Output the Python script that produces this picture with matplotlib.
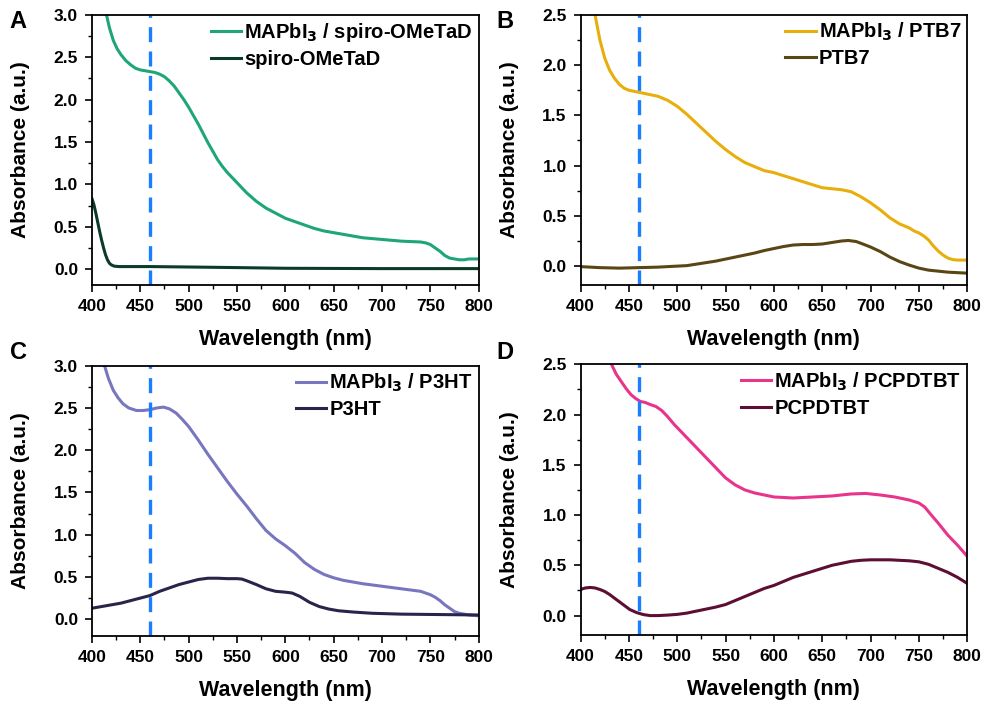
import matplotlib
matplotlib.use("Agg")
import matplotlib.pyplot as plt
from matplotlib.ticker import MultipleLocator

plt.rcParams['font.family'] = ['Liberation Sans', 'DejaVu Sans']
plt.rcParams['font.weight'] = 'bold'
plt.rcParams['mathtext.default'] = 'bf'

# Panel A: MAPbI3 / spiro-OMeTaD and spiro-OMeTaD
wl_a1 = [400, 405, 410, 415, 418, 422, 426, 430, 435, 440, 445, 450, 455, 460, 465, 470, 475, 480, 485, 490,
         495, 500, 505, 510, 515, 520, 525, 530, 535, 540, 545, 550, 555, 560, 565, 570, 575, 580, 590, 600,
         610, 620, 630, 640, 650, 660, 670, 680, 690, 700, 710, 720, 730, 740, 745, 750, 755, 760, 765, 770,
         775, 780, 785, 790, 795, 800]
ab_a1 = [4.6, 4.0, 3.45, 3.0, 2.85, 2.7, 2.6, 2.53, 2.46, 2.41, 2.37, 2.35, 2.34, 2.33, 2.32, 2.30, 2.27, 2.22, 2.16, 2.08,
         2.00, 1.91, 1.81, 1.71, 1.60, 1.49, 1.39, 1.29, 1.21, 1.14, 1.08, 1.02, 0.96, 0.90, 0.85, 0.80, 0.76, 0.72, 0.66, 0.60,
         0.56, 0.52, 0.48, 0.45, 0.43, 0.41, 0.39, 0.37, 0.36, 0.35, 0.34, 0.33, 0.325, 0.32, 0.31, 0.29, 0.25, 0.21, 0.16, 0.13,
         0.12, 0.11, 0.11, 0.12, 0.12, 0.12]
wl_a2 = [400, 402, 404, 406, 408, 410, 412, 414, 416, 418, 420, 423, 428, 440, 460, 500, 550, 600, 650, 700, 750, 800]
ab_a2 = [0.83, 0.76, 0.66, 0.55, 0.44, 0.34, 0.25, 0.17, 0.11, 0.07, 0.05, 0.035, 0.03, 0.03, 0.03, 0.025, 0.018, 0.01,
         0.008, 0.006, 0.006, 0.006]

# Panel B: MAPbI3 / PTB7 and PTB7
wl_b1 = [405, 410, 415, 420, 425, 430, 435, 440, 445, 450, 455, 460, 470, 480, 490, 500, 510, 520, 530, 540,
         550, 560, 570, 580, 590, 600, 610, 620, 630, 640, 650, 660, 670, 675, 680, 690, 700, 710, 720, 730,
         740, 745, 750, 755, 760, 765, 770, 775, 780, 785, 790, 800]
ab_b1 = [3.3, 2.9, 2.5, 2.25, 2.07, 1.95, 1.87, 1.81, 1.77, 1.75, 1.74, 1.73, 1.71, 1.69, 1.65, 1.59, 1.51, 1.42, 1.33, 1.24,
         1.16, 1.09, 1.03, 0.99, 0.95, 0.93, 0.90, 0.87, 0.84, 0.81, 0.78, 0.77, 0.76, 0.75, 0.74, 0.69, 0.63, 0.56, 0.48, 0.42,
         0.38, 0.35, 0.33, 0.30, 0.26, 0.20, 0.15, 0.11, 0.08, 0.065, 0.06, 0.06]
wl_b2 = [400, 420, 440, 460, 480, 500, 510, 520, 530, 540, 550, 560, 570, 580, 590, 600, 610, 620, 630, 640,
         650, 660, 670, 677, 685, 692, 700, 710, 720, 730, 740, 750, 760, 770, 780, 790, 800]
ab_b2 = [-0.005, -0.015, -0.02, -0.015, -0.01, 0.0, 0.005, 0.02, 0.035, 0.05, 0.07, 0.09, 0.11, 0.13, 0.155, 0.175, 0.195,
         0.21, 0.215, 0.215, 0.22, 0.235, 0.25, 0.255, 0.245, 0.22, 0.19, 0.145, 0.09, 0.045, 0.01, -0.02, -0.04, -0.05,
         -0.06, -0.065, -0.07]

# Panel C: MAPbI3 / P3HT and P3HT
wl_c1 = [400, 405, 410, 413, 417, 422, 427, 432, 438, 446, 453, 460, 467, 474, 480, 487, 493, 500, 510, 520,
         530, 540, 550, 560, 570, 580, 590, 600, 610, 620, 630, 640, 650, 660, 680, 700, 720, 740, 750, 755,
         760, 765, 770, 775, 780, 790, 800]
ab_c1 = [4.3, 3.7, 3.2, 3.0, 2.85, 2.71, 2.62, 2.55, 2.50, 2.47, 2.47, 2.48, 2.50, 2.51, 2.49, 2.44, 2.37, 2.28, 2.12, 1.95,
         1.79, 1.63, 1.48, 1.34, 1.19, 1.05, 0.95, 0.87, 0.78, 0.67, 0.59, 0.53, 0.49, 0.46, 0.42, 0.39, 0.36, 0.33, 0.29, 0.26,
         0.22, 0.17, 0.13, 0.09, 0.07, 0.05, 0.04]
wl_c2 = [400, 410, 420, 430, 440, 450, 460, 470, 480, 490, 500, 510, 520, 530, 540, 550, 555, 560, 570, 580,
         590, 600, 607, 615, 625, 635, 645, 655, 670, 690, 720, 760, 800]
ab_c2 = [0.13, 0.15, 0.17, 0.19, 0.22, 0.25, 0.28, 0.33, 0.37, 0.41, 0.44, 0.47, 0.485, 0.485, 0.48, 0.48, 0.475, 0.455,
         0.41, 0.36, 0.33, 0.32, 0.31, 0.27, 0.20, 0.15, 0.12, 0.10, 0.085, 0.07, 0.06, 0.055, 0.05]

# Panel D: MAPbI3 / PCPDTBT and PCPDTBT
wl_d1 = [420, 426, 432, 437, 442, 447, 452, 457, 462, 467, 472, 478, 484, 490, 497, 505, 515, 525, 535, 545,
         550, 560, 570, 580, 590, 600, 620, 640, 660, 680, 695, 710, 725, 740, 750, 756, 762, 770, 780, 790, 800]
ab_d1 = [3.0, 2.75, 2.5, 2.4, 2.33, 2.26, 2.2, 2.16, 2.13, 2.12, 2.1, 2.08, 2.04, 1.98, 1.9, 1.82, 1.72, 1.62, 1.52, 1.42,
         1.37, 1.30, 1.25, 1.22, 1.20, 1.18, 1.17, 1.18, 1.19, 1.21, 1.215, 1.2, 1.18, 1.15, 1.12, 1.08, 1.01, 0.92, 0.8,
         0.7, 0.59]
wl_d2 = [400, 405, 410, 415, 420, 425, 430, 437, 444, 451, 458, 465, 472, 480, 490, 500, 510, 520, 530, 540,
         550, 560, 570, 580, 590, 600, 610, 620, 630, 640, 650, 660, 670, 680, 690, 700, 720, 740, 750, 760,
         770, 780, 790, 800]
ab_d2 = [0.26, 0.275, 0.28, 0.275, 0.26, 0.24, 0.21, 0.16, 0.11, 0.06, 0.03, 0.01, 0.0, 0.0, 0.005, 0.012, 0.025, 0.045,
         0.065, 0.085, 0.11, 0.15, 0.19, 0.23, 0.27, 0.30, 0.34, 0.38, 0.41, 0.44, 0.47, 0.50, 0.52, 0.54, 0.55, 0.555,
         0.555, 0.545, 0.535, 0.51, 0.47, 0.43, 0.38, 0.32]

panels = [
    ('A', [0.093, 0.596], (0.010, 0.969), wl_a1, ab_a1, wl_a2, ab_a2, '#1fa57a', '#0b3b27',
     r'MAPbI$_3$ / spiro-OMeTaD', 'spiro-OMeTaD', (-0.19, 3.0)),
    ('B', [0.587, 0.596], (0.502, 0.969), wl_b1, ab_b1, wl_b2, ab_b2, '#e8ae0c', '#5a4515',
     r'MAPbI$_3$ / PTB7', 'PTB7', (-0.19, 2.5)),
    ('C', [0.093, 0.099], (0.010, 0.501), wl_c1, ab_c1, wl_c2, ab_c2, '#7876be', '#29244a',
     r'MAPbI$_3$ / P3HT', 'P3HT', (-0.2, 3.0)),
    ('D', [0.587, 0.101], (0.502, 0.501), wl_d1, ab_d1, wl_d2, ab_d2, '#e8358b', '#5c0f33',
     r'MAPbI$_3$ / PCPDTBT', 'PCPDTBT', (-0.19, 2.5)),
]

fig = plt.figure(figsize=(9.89, 7.06), dpi=100)

for letter, pos, lpos, x1, y1, x2, y2, c1, c2, lab1, lab2, ylim in panels:
    ax = fig.add_axes([pos[0], pos[1], 0.391, 0.383])
    ax.plot(x1, y1, color=c1, lw=2.2, label=lab1)
    ax.plot(x2, y2, color=c2, lw=2.2, label=lab2)
    ax.axvline(460, color='#1a7fff', lw=2.4, linestyle=(0, (4.5, 2.8)))
    ax.set_xlim(400, 800)
    ax.set_ylim(*ylim)
    ax.xaxis.set_major_locator(MultipleLocator(50))
    ax.xaxis.set_minor_locator(MultipleLocator(25))
    ax.yaxis.set_major_locator(MultipleLocator(0.5))
    ax.yaxis.set_minor_locator(MultipleLocator(0.25))
    ax.tick_params(which='major', direction='out', length=5, width=1.2, labelsize=12.5, pad=5)
    ax.tick_params(which='minor', direction='out', length=3, width=1.0)
    for lbl in ax.get_xticklabels() + ax.get_yticklabels():
        lbl.set_fontweight('bold')
    for s in ax.spines.values():
        s.set_linewidth(1.3)
    ax.set_xlabel('Wavelength (nm)', fontsize=15.5, fontweight='bold', labelpad=11)
    ax.set_ylabel('Absorbance (a.u.)', fontsize=15, fontweight='bold', labelpad=17)
    ax.legend(loc='upper right', frameon=False, fontsize=14.5, handlelength=1.5,
              handletextpad=0.15, labelspacing=0.3, borderaxespad=0.15, borderpad=0.15)
    fig.text(lpos[0], lpos[1], letter, fontsize=17, fontweight='bold', va='center')

fig.savefig('out.png', dpi=100)
